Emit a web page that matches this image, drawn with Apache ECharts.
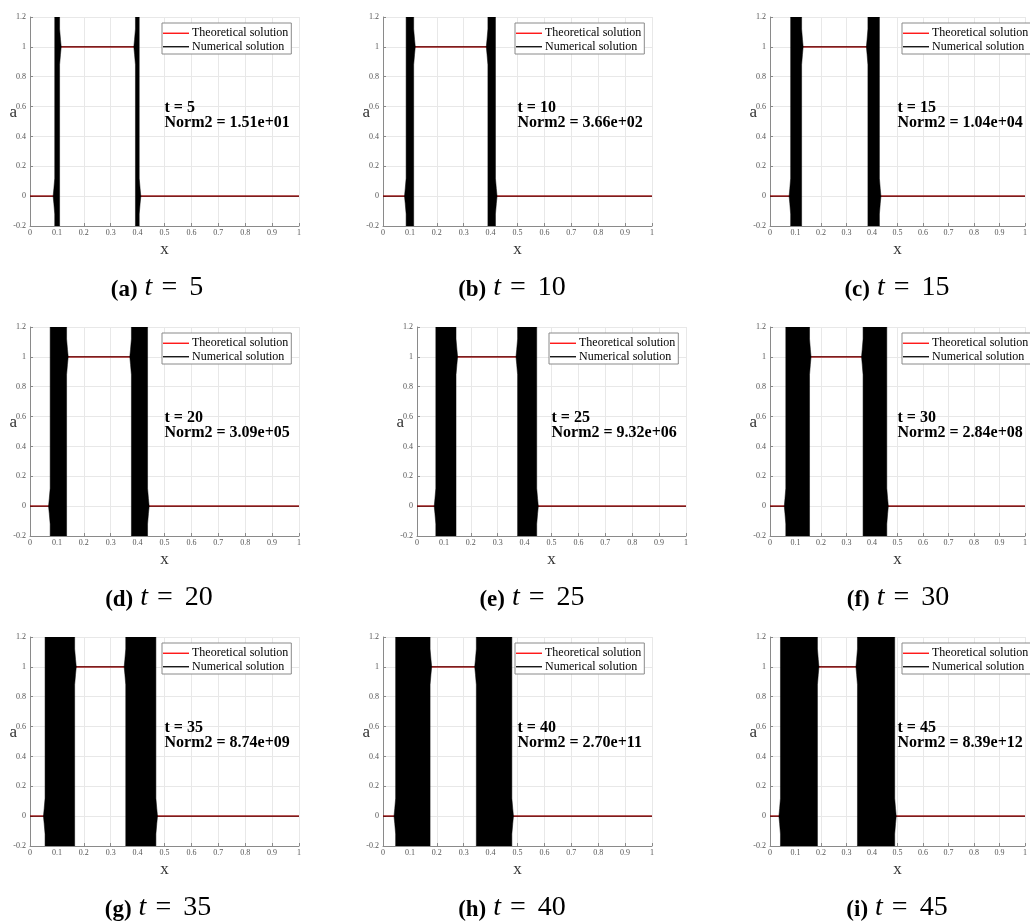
<!DOCTYPE html>
<html>
<head>
<meta charset="utf-8">
<title>Advection of a square pulse — numerical vs theoretical</title>
<script src="https://cdn.jsdelivr.net/npm/echarts@6/dist/echarts.min.js"></script>
<style>
  html, body { margin: 0; padding: 0; background: #fff; }
  #chart { width: 1030px; height: 921px; }
</style>
</head>
<body>
<div id="chart"></div>
<script>
// ---- data -------------------------------------------------------------
const panelLetters = ['a', 'b', 'c', 'd', 'e', 'f', 'g', 'h', 'i'];
const times = [5, 10, 15, 20, 25, 30, 35, 40, 45];
const norm2 = ['1.51e+01', '3.66e+02', '1.04e+04', '3.09e+05', '9.32e+06',
               '2.84e+08', '8.74e+09', '2.70e+11', '8.39e+12'];

// x-extent of the oscillating (blown-up) numerical region around each jump
const leftBand = [[0.092, 0.110], [0.086, 0.114], [0.081, 0.124],
                  [0.075, 0.136], [0.070, 0.145], [0.062, 0.155],
                  [0.056, 0.166], [0.047, 0.175], [0.041, 0.186]];
const rightBand = [[0.392, 0.406], [0.390, 0.418], [0.384, 0.429],
                   [0.377, 0.437], [0.374, 0.445], [0.365, 0.458],
                   [0.356, 0.468], [0.347, 0.479], [0.343, 0.489]];

// theoretical square pulse: a = 1 on [0.1, 0.4], 0 elsewhere
const pulseX = [0, 0.1, 0.1, 0.4, 0.4, 1];
const pulseA = [0, 0, 1, 1, 0, 0];

// anchor of the "t / Norm2" note, in data units
const notePos = [0.5, 0.54];

// axis ticks
const xTicks = [0, 0.1, 0.2, 0.3, 0.4, 0.5, 0.6, 0.7, 0.8, 0.9, 1];
const yTicks = [-0.2, 0, 0.2, 0.4, 0.6, 0.8, 1, 1.2];
const xTickLabels = ['0', '0.1', '0.2', '0.3', '0.4', '0.5', '0.6', '0.7', '0.8', '0.9', '1'];
const yTickLabels = ['-0.2', '0', '0.2', '0.4', '0.6', '0.8', '1', '1.2'];

// ---- layout -----------------------------------------------------------
const gridLeft = [30, 383, 770, 30, 417, 770, 30, 383, 770];
const rowTop = [17, 327, 637];
const plotW = 269, plotH = 209;
const captionX = [157, 512, 897, 159, 532, 898, 158, 512, 897];
const captionY = [288, 598, 908];

const SERIF = '"Liberation Serif", "Times New Roman", serif';
const SPUR = 0.006;   // little spike where the flat solution meets the band

function tickLabel(ticks, labels) {
  return function (v) {
    for (let k = 0; k < ticks.length; k++) {
      if (Math.abs(ticks[k] - v) < 1e-9) return labels[k];
    }
    return '';
  };
}

// lens-shaped spike sticking out of a band edge at level y
function spur(x, dir, y) {
  return [[x, y - 0.12], [x + dir * 0.55 * SPUR, y - 0.05], [x + dir * SPUR, y],
          [x + dir * 0.55 * SPUR, y + 0.05], [x, y + 0.12]];
}

// band outline: solid block with a small spike on the side where it joins
// the flat part of the solution (y = 0 outside, y = 1 inside the pulse)
function bandPolygon(params, api) {
  const x0 = api.value(0), x1 = api.value(1), side = api.value(2);
  const yMin = yTicks[0], yMax = yTicks[yTicks.length - 1];
  let pts;
  if (side === 0) {
    pts = [[x0, yMin]].concat(spur(x0, -1, 0), [[x0, yMax], [x1, yMax]],
                              spur(x1, 1, 1).reverse(), [[x1, yMin]]);
  } else {
    pts = [[x0, yMin]].concat(spur(x0, -1, 1), [[x0, yMax], [x1, yMax]],
                              spur(x1, 1, 0).reverse(), [[x1, yMin]]);
  }
  return {
    type: 'polygon',
    shape: { points: pts.map(p => api.coord(p)) },
    style: { fill: '#000', stroke: '#000', lineWidth: 0.5 }
  };
}

// two-line bold note anchored at a data point
function noteText(panel) {
  return function (params, api) {
    const p = api.coord([api.value(0), api.value(1)]);
    return {
      type: 'text', x: p[0], y: p[1],
      style: {
        text: 't = ' + times[panel] + '\nNorm2 = ' + norm2[panel],
        fill: '#000', font: 'bold 16px ' + SERIF, lineHeight: 15,
        align: 'left', verticalAlign: 'middle'
      }
    };
  };
}

const grid = [], xAxis = [], yAxis = [], series = [], legend = [], graphic = [];

for (let i = 0; i < 9; i++) {
  const row = Math.floor(i / 3);
  grid.push({ left: gridLeft[i], top: rowTop[row], width: plotW, height: plotH });

  xAxis.push({
    type: 'value', gridIndex: i,
    min: xTicks[0], max: xTicks[xTicks.length - 1], interval: 0.1,
    name: 'x', nameLocation: 'middle', nameGap: 15, nameMoveOverlap: false,
    nameTextStyle: { fontFamily: SERIF, fontSize: 17, color: '#333' },
    axisLine: { show: true, onZero: false, lineStyle: { color: '#8a8a8a', width: 1 } },
    axisTick: { show: true, inside: true, length: 3, lineStyle: { color: '#8a8a8a' } },
    axisLabel: { fontFamily: SERIF, fontSize: 8, color: '#555', margin: 3,
                 formatter: tickLabel(xTicks, xTickLabels) },
    splitLine: { show: true, lineStyle: { color: '#e8e8e8', width: 1 } }
  });

  yAxis.push({
    type: 'value', gridIndex: i,
    min: yTicks[0], max: yTicks[yTicks.length - 1], interval: 0.2,
    name: 'a', nameLocation: 'middle', nameGap: 13, nameRotate: 0, nameMoveOverlap: false,
    nameTextStyle: { fontFamily: SERIF, fontSize: 17, color: '#333', verticalAlign: 'bottom' },
    axisLine: { show: true, onZero: false, lineStyle: { color: '#8a8a8a', width: 1 } },
    axisTick: { show: true, inside: true, length: 3, lineStyle: { color: '#8a8a8a' } },
    axisLabel: { fontFamily: SERIF, fontSize: 8, color: '#555', margin: 4,
                 formatter: tickLabel(yTicks, yTickLabels) },
    splitLine: { show: true, lineStyle: { color: '#e8e8e8', width: 1 } }
  });

  // theoretical solution
  series.push({
    name: 'Theoretical solution', type: 'line', xAxisIndex: i, yAxisIndex: i,
    data: pulseX.map((x, k) => [x, pulseA[k]]),
    color: '#ff0000', showSymbol: false, symbol: 'none', silent: true,
    lineStyle: { color: '#ff0000', width: 1.4 }, z: 2
  });

  // numerical solution: flat parts outside the blown-up bands
  const L = leftBand[i], R = rightBand[i];
  const segments = [
    [[0, 0], [L[0], 0]],
    [[L[1], 1], [R[0], 1]],
    [[R[1], 0], [1, 0]]
  ];
  segments.forEach(seg => {
    series.push({
      name: 'Numerical solution', type: 'line', xAxisIndex: i, yAxisIndex: i,
      data: seg, color: '#000', showSymbol: false, symbol: 'none', silent: true,
      lineStyle: { color: '#000', width: 0.8 }, z: 3
    });
  });

  // numerical solution: oscillating bands
  series.push({
    name: 'Numerical solution', type: 'custom', xAxisIndex: i, yAxisIndex: i,
    data: [[L[0], L[1], 0], [R[0], R[1], 1]],
    color: '#000', renderItem: bandPolygon, clip: true, silent: true, z: 4
  });

  // note with time and error norm
  series.push({
    type: 'custom', xAxisIndex: i, yAxisIndex: i, silent: true,
    data: [notePos], renderItem: noteText(i), z: 5
  });

  legend.push({
    left: gridLeft[i] + 132, top: rowTop[row] + 6,
    orient: 'vertical', selectedMode: false,
    data: ['Theoretical solution', 'Numerical solution'],
    icon: 'rect', itemWidth: 26, itemHeight: 1.3, itemGap: 1,
    padding: [4, 3, 1, 1],
    backgroundColor: '#fff', borderColor: '#8a8a8a', borderWidth: 1, borderRadius: 0,
    textStyle: { fontFamily: SERIF, fontSize: 12, lineHeight: 12.5, color: '#000', padding: [0, 0, 0, -2] }
  });

  graphic.push({
    type: 'text', x: captionX[i], y: captionY[row], silent: true,
    style: {
      text: '{b|(' + panelLetters[i] + ')}{m|t}{eq|=}{n|' + times[i] + '}',
      align: 'center', verticalAlign: 'middle',
      rich: {
        b: { fontFamily: SERIF, fontWeight: 'bold', fontSize: 23, fill: '#000', verticalAlign: 'bottom' },
        m: { fontFamily: SERIF, fontStyle: 'italic', fontSize: 28, fill: '#000',
             padding: [0, 0, 0, 7], verticalAlign: 'bottom' },
        eq: { fontFamily: SERIF, fontSize: 28, fill: '#000',
              padding: [0, 12, 0, 9], verticalAlign: 'bottom' },
        n: { fontFamily: SERIF, fontSize: 28, fill: '#000', verticalAlign: 'bottom' }
      }
    }
  });
}

const chart = echarts.init(document.getElementById('chart'), null, { renderer: 'canvas' });
chart.setOption({
  animation: false,
  backgroundColor: '#fff',
  grid, xAxis, yAxis, series, legend, graphic
});
</script>
</body>
</html>
